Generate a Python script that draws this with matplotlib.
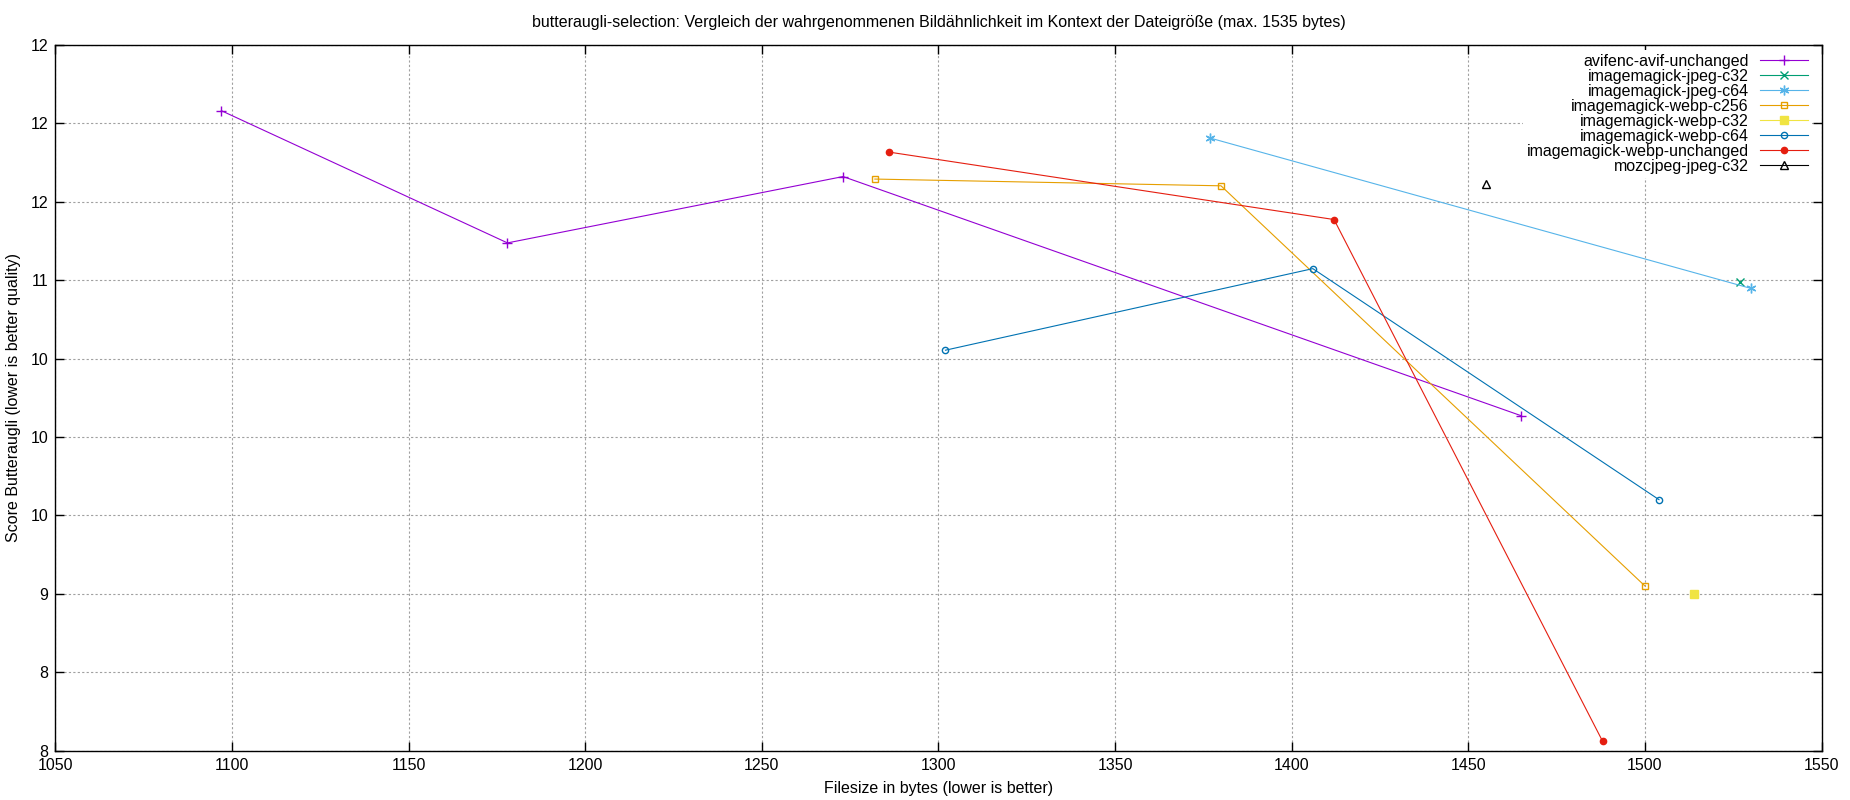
import matplotlib

matplotlib.use("Agg")
import matplotlib.pyplot as plt
from matplotlib.ticker import FixedLocator, FuncFormatter

plt.rcParams["font.family"] = ["Liberation Sans", "DejaVu Sans"]

TITLE = (
    "butteraugli-selection: Vergleich der wahrgenommenen Bildähnlichkeit "
    "im Kontext der Dateigröße (max. 1535 bytes)"
)

# filesize (bytes) / butteraugli score per encoder
avif_unchanged_x = [1097, 1178, 1273, 1465]
avif_unchanged_y = [12.08, 11.237, 11.66, 10.135]
jpeg_c32_x = [1527]
jpeg_c32_y = [10.987]
jpeg_c64_x = [1377, 1530]
jpeg_c64_y = [11.905, 10.947]
webp_c256_x = [1282, 1380, 1500]
webp_c256_y = [11.644, 11.601, 9.05]
webp_c32_x = [1514]
webp_c32_y = [9.0]
webp_c64_x = [1302, 1406, 1504]
webp_c64_y = [10.553, 11.073, 9.6]
webp_unchanged_x = [1286, 1412, 1488]
webp_unchanged_y = [11.816, 11.386, 8.061]
mozcjpeg_c32_x = [1455]
mozcjpeg_c32_y = [11.613]

x_ticks = [1050, 1100, 1150, 1200, 1250, 1300, 1350, 1400, 1450, 1500, 1550]
y_ticks = [8.0, 8.5, 9.0, 9.5, 10.0, 10.5, 11.0, 11.5, 12.0, 12.5]

SERIES = [
    ("avifenc-avif-unchanged", avif_unchanged_x, avif_unchanged_y,
     "#9400d3", dict(marker="+", ms=7, mew=1.0)),
    ("imagemagick-jpeg-c32", jpeg_c32_x, jpeg_c32_y,
     "#009e73", dict(marker="x", ms=5.5, mew=1.0)),
    ("imagemagick-jpeg-c64", jpeg_c64_x, jpeg_c64_y,
     "#56b4e9", dict(marker=(6, 2, 0), ms=7, mew=1.0)),
    ("imagemagick-webp-c256", webp_c256_x, webp_c256_y,
     "#e69f00", dict(marker="s", ms=5, mew=1.0, mfc="none")),
    ("imagemagick-webp-c32", webp_c32_x, webp_c32_y,
     "#f0e442", dict(marker="s", ms=5.5, mew=1.0)),
    ("imagemagick-webp-c64", webp_c64_x, webp_c64_y,
     "#0072b2", dict(marker="o", ms=4.5, mew=1.0, mfc="none")),
    ("imagemagick-webp-unchanged", webp_unchanged_x, webp_unchanged_y,
     "#e51e10", dict(marker="o", ms=4.5, mew=1.0)),
    ("mozcjpeg-jpeg-c32", mozcjpeg_c32_x, mozcjpeg_c32_y,
     "#000000", dict(marker="^", ms=6, mew=1.0, mfc="none")),
]


def main() -> None:
    fig = plt.figure(figsize=(18.5, 8.0), dpi=100)
    ax = fig.add_axes([0.0299, 0.0617, 0.9547, 0.8823])

    for label, xs, ys, color, style in SERIES:
        ax.plot(xs, ys, color=color, linewidth=0.8, label=label, **style)

    ax.set_xlim(1050, 1550)
    ax.set_ylim(8.0, 12.5)
    ax.xaxis.set_major_locator(FixedLocator(x_ticks))
    ax.yaxis.set_major_locator(FixedLocator(y_ticks))
    ax.yaxis.set_major_formatter(FuncFormatter(lambda v, _: "%.0f" % v))
    ax.tick_params(direction="in", length=6.5, width=1.0, labelsize=11.5,
                   top=True, right=True, pad=5)
    ax.grid(True, color="#a0a0a0", linestyle=(0, (2, 2)), linewidth=0.8)
    for spine in ax.spines.values():
        spine.set_linewidth(1.0)

    ax.set_xlabel("Filesize in bytes (lower is better)", fontsize=11.5, labelpad=6)
    ax.set_ylabel("Score Butteraugli (lower is better quality)", fontsize=11.5, labelpad=7)
    ax.set_title(TITLE, fontsize=11.5, pad=13)

    leg = ax.legend(
        loc="upper right",
        bbox_to_anchor=(0.999, 1.004),
        markerfirst=False,
        fontsize=11.5,
        labelspacing=0.0,
        handlelength=3.0,
        handletextpad=0.7,
        borderpad=0.25,
        frameon=True,
        fancybox=False,
        framealpha=1.0,
        edgecolor="none",
        facecolor="white",
    )
    leg.set_zorder(5)

    fig.savefig("out.png", dpi=100)
    plt.close(fig)


if __name__ == "__main__":
    main()
